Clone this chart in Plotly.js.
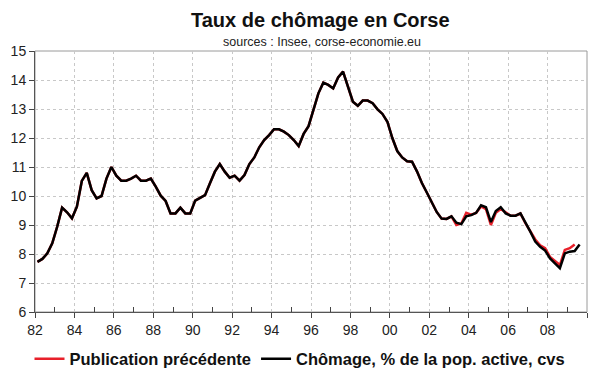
<!DOCTYPE html>
<html>
<head>
<meta charset="utf-8">
<script src="https://cdn.plot.ly/plotly-3.0.1.min.js"></script>
<style>html,body{margin:0;padding:0;background:#fff;}#chart{width:600px;height:372px;}</style>
</head>
<body>
<div id="chart"></div>
<script>
// Quarterly series, first quarter 1982 Q1
const startYear = 1982;
const chomage = [
  7.73,7.83,8.02,8.37,8.94,9.6,9.44,9.23,
  9.63,10.52,10.8,10.2,9.92,10.0,10.6,11.0,
  10.7,10.53,10.53,10.6,10.7,10.53,10.53,10.6,
  10.32,10.01,9.83,9.4,9.4,9.6,9.4,9.4,
  9.84,9.94,10.03,10.44,10.84,11.1,10.84,10.63,
  10.7,10.53,10.72,11.1,11.33,11.68,11.93,12.1,
  12.3,12.3,12.22,12.1,11.93,11.72,12.14,12.41,
  13.02,13.54,13.91,13.83,13.71,14.09,14.29,13.77,
  13.25,13.11,13.29,13.29,13.2,12.99,12.83,12.56,
  12.0,11.55,11.33,11.2,11.18,10.85,10.45,10.12,
  9.8,9.45,9.22,9.21,9.3,9.08,9.03,9.3,
  9.34,9.42,9.68,9.61,9.1,9.48,9.61,9.4,
  9.32,9.32,9.4,9.1,8.77,8.43,8.25,8.12,
  7.85,7.68,7.51,8.02,8.08,8.1,8.33
];
// Previous publication: identical to the current series up to 2002 Q4, then revised
const sharedQuarters = 84;
const precedenteTail = [
  9.3,9.0,9.05,9.42,
  9.36,9.42,9.64,9.55,
  9.0,9.42,9.55,9.42,
  9.32,9.32,9.4,9.06,
  8.8,8.5,8.3,8.2,
  7.9,7.75,7.62,8.14,
  8.2,8.33
];
const tickYears = [1982,1984,1986,1988,1990,1992,1994,1996,1998,2000,2002,2004,2006,2008,2010];
const tickLabels = ['82','84','86','88','90','92','94','96','98','00','02','04','06','08',''];
const minorYears = [1983,1985,1987,1989,1991,1993,1995,1997,1999,2001,2003,2005,2007,2009];

const precedente = chomage.slice(0, sharedQuarters).concat(precedenteTail);
function quarterPos(i){ return startYear + Math.floor(i/4) + ((i%4) + 0.5)/4; }
const xCur = chomage.map((v,i)=>quarterPos(i));
const xPrev = precedente.map((v,i)=>quarterPos(i));

const font = 'Liberation Sans, Arial, sans-serif';
const traces = [
  {x:xPrev, y:precedente, type:'scatter', mode:'lines', name:'<b>Publication précédente</b>',
   line:{color:'#e8202a', width:2.5}},
  {x:xCur, y:chomage, type:'scatter', mode:'lines', name:'<b>Chômage, % de la pop. active, cvs</b>',
   line:{color:'#000000', width:2.5}}
];
const layout = {
  width:600, height:372,
  margin:{l:35, r:13, t:51, b:60},
  paper_bgcolor:'#fff', plot_bgcolor:'#fff',
  font:{family:font, color:'#222'},
  showlegend:true,
  legend:{orientation:'h', xref:'container', yref:'container', x:0.5, xanchor:'center', y:0.035, yanchor:'middle',
          font:{size:16.5, color:'#111'}, itemwidth:30, tracegroupgap:0, bgcolor:'rgba(0,0,0,0)'},
  xaxis:{range:[1982,2010], tickmode:'array', tickvals:tickYears, ticktext:tickLabels,
         ticks:'outside', ticklen:5, tickcolor:'#444', showline:true, linecolor:'#555', linewidth:1,
         showgrid:true, gridcolor:'#c8c8c8', griddash:'dot', gridwidth:1, zeroline:false,
         tickfont:{size:14, color:'#222'},
         minor:{tickmode:'array', tickvals:minorYears, ticks:'inside', ticklen:5, tickwidth:1, tickcolor:'#444', showgrid:false}},
  yaxis:{range:[6,15], dtick:1, tick0:6, ticks:'outside', ticklen:5, tickcolor:'#444',
         showline:true, linecolor:'#555', linewidth:1,
         showgrid:true, gridcolor:'#c8c8c8', griddash:'dot', gridwidth:1, zeroline:false,
         tickfont:{size:14, color:'#222'}},
  shapes:[{type:'rect', xref:'paper', yref:'paper', x0:0, x1:1, y0:0, y1:1, line:{color:'#9a9a9a', width:1}, layer:'below'}],
  annotations:[
    {text:'<b>Taux de chômage en Corse</b>', xref:'paper', yref:'paper', x:0.517, y:1.119, xanchor:'center', yanchor:'middle',
     showarrow:false, font:{size:20, color:'#111'}},
    {text:'sources : Insee, corse-economie.eu', xref:'paper', yref:'paper', x:0.52, y:1.034, xanchor:'center', yanchor:'middle',
     showarrow:false, font:{size:12.5, color:'#222'}}
  ]
};
Plotly.newPlot('chart', traces, layout, {displayModeBar:false, staticPlot:true});
</script>
</body>
</html>
